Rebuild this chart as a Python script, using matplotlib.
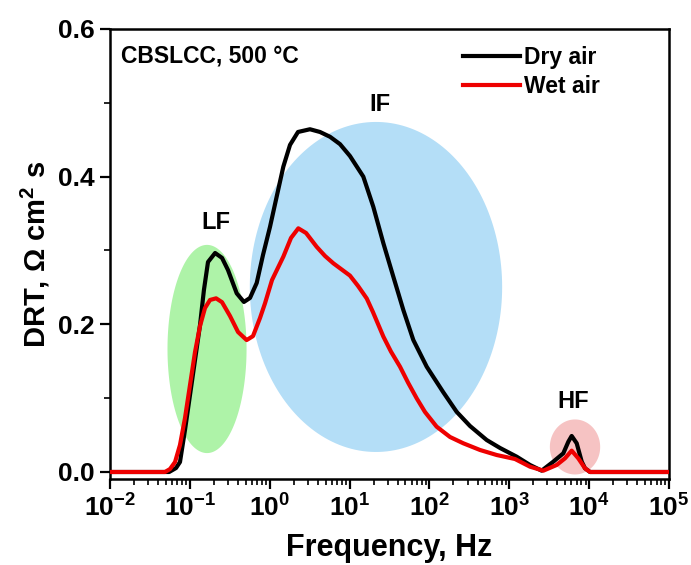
import numpy as np
import matplotlib
matplotlib.use("Agg")
import matplotlib.pyplot as plt
from matplotlib.ticker import LogLocator, MultipleLocator

plt.rcParams['font.family'] = ['Liberation Sans', 'DejaVu Sans']
plt.rcParams['font.weight'] = 'bold'
plt.rcParams['mathtext.fontset'] = 'custom'
plt.rcParams['mathtext.rm'] = 'Liberation Sans:bold'
plt.rcParams['mathtext.it'] = 'Liberation Sans:bold'
plt.rcParams['mathtext.bf'] = 'Liberation Sans:bold'

# DRT curves (frequency in Hz, DRT in ohm cm2 s)
freq_dry = [0.01, 0.055, 0.0671, 0.0752, 0.0869, 0.1004, 0.116, 0.134, 0.150, 0.1687,
            0.207, 0.2526, 0.30, 0.386, 0.475, 0.566, 0.687, 0.824, 1.008, 1.234,
            1.48, 1.795, 2.26, 3.19, 4.26, 5.69, 7.59, 10.1, 14.86, 19.8,
            26.5, 35.3, 47.1, 62.8, 92.4, 149, 219,
            322, 521, 766, 1239, 1816, 2543, 3557, 4745, 5484, 6040,
            6980, 8070, 8870, 10250, 1e5]
drt_dry = [0.0, 0.0, 0.0054, 0.0135, 0.0569, 0.1043, 0.1517, 0.199, 0.2465, 0.2844,
           0.2966, 0.290, 0.2736, 0.242, 0.2303, 0.2357, 0.256, 0.294, 0.332, 0.375,
           0.4135, 0.443, 0.4605, 0.4642, 0.4605, 0.454, 0.444, 0.428, 0.400, 0.3593,
           0.3097, 0.2645, 0.2194, 0.1788, 0.1426, 0.108, 0.0815,
           0.0623, 0.0433, 0.0325, 0.0207, 0.0095, 0.0018, 0.014, 0.0253, 0.041, 0.0488,
           0.0389, 0.014, 0.005, 0.0, 0.0]

freq_wet = [0.01, 0.0488, 0.0564, 0.0652, 0.0752, 0.0869, 0.1004, 0.116, 0.134, 0.1547,
            0.1788, 0.213, 0.2526, 0.318, 0.401, 0.514, 0.617, 0.7556, 0.873, 1.068,
            1.48, 1.847, 2.28, 2.85, 3.87, 4.92, 6.25, 10.1, 12.75, 16.4,
            19.6, 26.5, 33.0, 42.8, 54.0, 69.2, 87.9, 123, 181, 265,
            430, 695, 1178, 1816, 2667, 3920, 4980, 6040, 7310, 8870,
            10250, 1e5]
drt_wet = [0.0, 0.0, 0.004, 0.0135, 0.0366, 0.0731, 0.1178, 0.1625, 0.1977, 0.2221,
           0.233, 0.2352, 0.230, 0.2113, 0.1896, 0.1787, 0.184, 0.2086, 0.2285, 0.26,
           0.2916, 0.317, 0.330, 0.3237, 0.305, 0.2926, 0.2827, 0.266, 0.252, 0.235,
           0.2167, 0.1833, 0.163, 0.1426, 0.121, 0.0998, 0.0813, 0.0614, 0.0474, 0.0389,
           0.0298, 0.023, 0.0176, 0.0072, 0.0018, 0.0095, 0.0185, 0.0289, 0.0185, 0.005,
           0.0, 0.0]

# highlighted regions: label, centre freq, centre DRT, width (decades), height, colour
regions = ["LF", "IF", "HF"]
region_fc = [0.164, 21.4, 6650]
region_dc = [0.1666, 0.2506, 0.0339]
region_wdec = [0.99, 3.16, 0.63]
region_h = [0.282, 0.447, 0.0745]
region_col = ["#aef3a8", "#b4def7", "#f6c3c3"]
label_pos = [(0.21, 0.338), (24, 0.498), (6300, 0.095)]

fig = plt.figure(figsize=(6.91, 5.65), dpi=100)
ax = fig.add_axes([0.1592, 0.1522, 0.8090, 0.7965])

t = np.linspace(0, 2 * np.pi, 200)
for name, fc, dc, wd, h, col, pos in zip(regions, region_fc, region_dc, region_wdec,
                                         region_h, region_col, label_pos):
    ex = 10 ** (np.log10(fc) + wd / 2 * np.cos(t))
    ey = dc + h / 2 * np.sin(t)
    ax.fill(ex, ey, color=col, lw=0, zorder=1)
    ax.text(pos[0], pos[1], name, fontsize=17, fontweight='bold',
            ha='center', va='center', zorder=4)

ax.plot(freq_dry, drt_dry, color='black', lw=3, label='Dry air', zorder=3,
        solid_joinstyle='round')
ax.plot(freq_wet, drt_wet, color='#ee0000', lw=3, label='Wet air', zorder=3,
        solid_joinstyle='round')

ax.set_xscale('log')
ax.set_xlim(1e-2, 1e5)
ax.set_ylim(-0.0095, 0.6)
ax.set_xticks([10.0 ** e for e in range(-2, 6)],
              labels=[f"$10^{{{e}}}$" for e in range(-2, 6)])
ax.xaxis.set_minor_locator(LogLocator(base=10, subs=np.arange(2, 10), numticks=20))
ax.set_yticks([0.0, 0.2, 0.4, 0.6], labels=["0.0", "0.2", "0.4", "0.6"])
ax.yaxis.set_minor_locator(MultipleLocator(0.1))

ax.tick_params(which='major', direction='out', length=7, width=1.6, labelsize=19, pad=4)
ax.tick_params(which='minor', direction='out', length=4, width=1.2)
ax.tick_params(top=False, right=False, which='both')
for s in ax.spines.values():
    s.set_linewidth(1.8)

ax.set_xlabel("Frequency, Hz", fontsize=22, fontweight='bold', labelpad=8)
ax.set_ylabel("DRT, $\\Omega$ cm$^{2}$ s", fontsize=21, fontweight='bold', labelpad=4)

ax.text(0.02, 0.94, "CBSLCC, 500 °C", transform=ax.transAxes, fontsize=16.5,
        fontweight='bold', ha='left', va='center')
ax.legend(loc='upper left', bbox_to_anchor=(0.6315, 0.962), frameon=False, fontsize=16.5,
          handlelength=2.5, handletextpad=0.17, labelspacing=0.25, borderaxespad=0,
          borderpad=0)

fig.savefig("out.png", dpi=100)
